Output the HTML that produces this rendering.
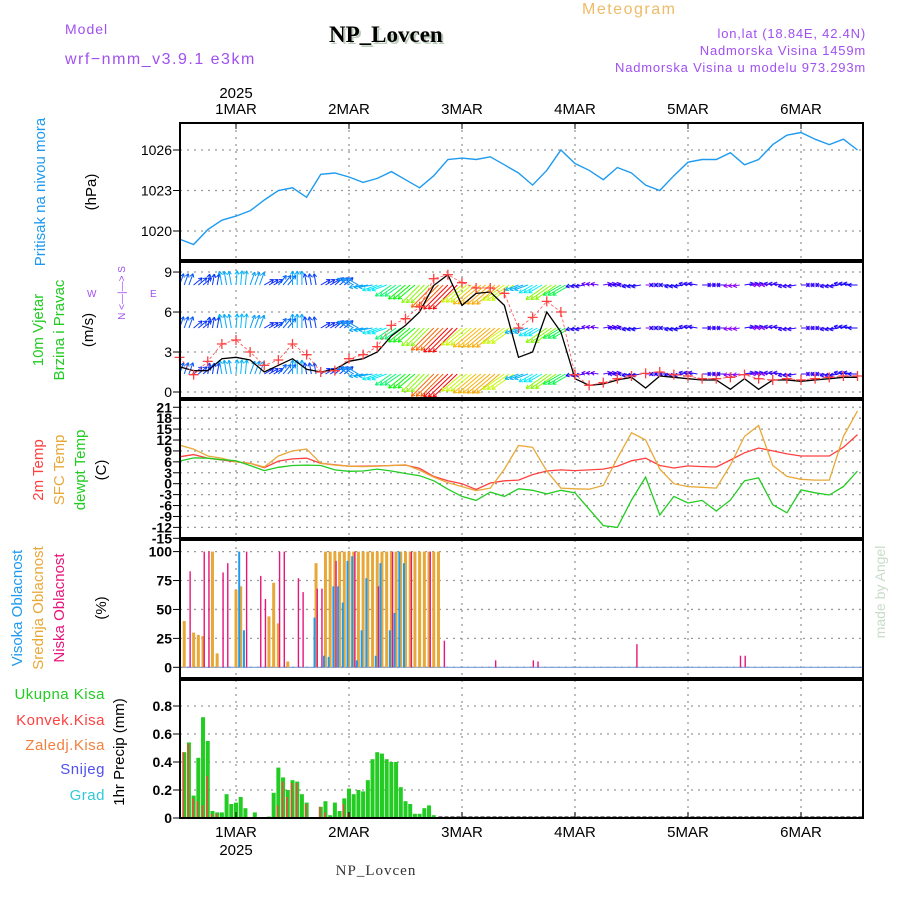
<!DOCTYPE html>
<html><head><meta charset="utf-8"><style>
html,body{margin:0;padding:0;background:#fff}
svg{display:block;font-family:"Liberation Sans",sans-serif}
</style></head><body>
<svg id="chart" width="900" height="900" viewBox="0 0 900 900">
<rect x="0" y="0" width="900" height="900" fill="#fff"/>
<text x="582" y="14" font-size="16" fill="#eebb66" letter-spacing="1.5">Meteogram</text>
<text x="65" y="34" font-size="14" fill="#a050f0" letter-spacing="1">Model</text>
<text x="65" y="64" font-size="16" fill="#a050f0" letter-spacing="1.5">wrf−nmm_v3.9.1 e3km</text>
<text x="331" y="44" font-size="23" font-weight="bold" fill="#bbccbb" font-family="Liberation Serif,serif">NP_Lovcen</text>
<text x="329" y="42" font-size="23" font-weight="bold" fill="#000" font-family="Liberation Serif,serif">NP_Lovcen</text>
<text x="866" y="38" font-size="13" fill="#a050f0" text-anchor="end" letter-spacing="0.8">lon,lat (18.84E, 42.4N)</text>
<text x="866" y="55" font-size="13" fill="#a050f0" text-anchor="end" letter-spacing="0.8">Nadmorska Visina 1459m</text>
<text x="866" y="72" font-size="13" fill="#a050f0" text-anchor="end" letter-spacing="0.8">Nadmorska Visina u modelu 973.293m</text>
<g id="grid"></g><g id="marks"></g><g id="frames"></g><g id="labels"></g>
</svg>
<script>
// ---------- data ----------
const hours3 = [-12,-9,-6,-3,0,3,6,9,12,15,18,21,24,27,30,33,36,39,42,45,48,51,54,57,60,63,66,69,72,75,78,81,84,87,90,93,96,99,102,105,108,111,114,117,120,123,126,129,132];
const pressure = [1019.4,1019.0,1020.1,1020.8,1021.1,1021.5,1022.3,1023.0,1023.2,1022.5,1024.2,1024.3,1024.0,1023.6,1023.9,1024.4,1023.8,1023.2,1024.1,1025.3,1025.4,1025.3,1025.5,1024.9,1024.3,1023.4,1024.5,1026.0,1025.0,1024.5,1023.8,1024.7,1024.3,1023.4,1023.0,1024.1,1025.1,1025.3,1025.3,1025.8,1024.9,1025.3,1026.4,1027.1,1027.3,1026.8,1026.4,1026.8,1026.0];
const windSpeed = [1.9,1.6,1.6,2.5,2.6,2.4,1.5,2.0,2.5,1.7,1.5,1.7,2.3,2.5,3.0,4.2,5.0,6.0,8.0,8.8,6.5,7.4,7.5,6.5,2.6,3.0,6.0,4.5,1.0,0.5,0.6,0.9,1.1,0.3,1.2,1.1,1.0,0.9,0.9,0.2,1.0,0.2,0.9,0.9,0.8,0.9,1.0,1.1,1.1];
const windGust = [2.6,1.3,2.3,3.6,3.9,3.0,2.0,2.4,3.6,2.8,1.5,1.6,2.5,2.8,3.4,5.0,5.5,6.4,8.5,8.8,8.2,7.8,7.8,7.4,4.8,5.6,6.8,6.0,1.3,0.5,0.7,1.0,1.2,1.4,1.5,1.3,1.2,1.0,1.0,1.1,1.3,1.0,0.9,1.0,0.9,1.0,1.1,1.2,1.2];
const windDir = [200,230,190,170,185,200,240,220,180,170,240,230,120,80,70,55,50,45,45,45,50,50,50,55,70,60,55,60,80,100,260,90,80,270,90,80,100,270,90,80,260,90,100,80,270,90,80,100,90];
const temp2m = [7.4,8.0,7.0,6.5,6.0,5.6,4.4,6.2,6.8,7.0,5.6,5.2,4.8,4.8,4.9,5.0,5.1,4.2,2.0,0.8,0.0,-1.6,0.2,0.8,1.0,2.5,3.5,3.8,3.6,3.8,4.0,4.8,6.3,7.0,5.0,4.3,4.9,4.7,4.6,6.5,8.5,9.8,9.0,8.2,7.6,7.6,7.6,10.0,13.5];
const tempSfc = [10.6,9.5,7.6,7.0,6.0,5.6,4.6,7.6,9.0,9.5,5.6,5.1,4.8,4.7,4.8,5.0,5.2,3.7,1.8,0.3,-0.8,-1.9,-1.2,4.0,10.5,10.0,3.5,-1.2,-1.4,-1.5,-0.5,7.0,14.0,12.0,4.0,0.0,-0.8,-1.0,-1.2,5.1,13.0,16.0,5.0,2.0,1.2,1.0,1.0,13.0,20.0];
const dewpt = [6.2,7.1,7.0,6.6,6.3,5.0,3.6,4.5,5.0,5.1,5.0,3.8,3.4,3.5,4.0,3.5,2.8,2.2,0.8,-1.5,-3.5,-4.6,-2.3,-3.5,-1.4,-1.8,-2.8,-1.8,-2.5,-7.0,-11.5,-12.0,-4.5,1.8,-8.6,-3.5,-5.3,-4.6,-7.5,-4.5,0.8,1.6,-5.8,-8.0,-1.7,-2.5,-3.1,-0.8,3.5];
// hourly, from h=-12 to h=44
const cloudHours = [-12,-11,-10,-9,-8,-7,-6,-5,-4,-3,-2,-1,0,1,2,3,4,5,6,7,8,9,10,11,12,13,14,15,16,17,18,19,20,21,22,23,24,25,26,27,28,29,30,31,32,33,34,35,36,37,38,39,40,41,42,43,44];
const cloudLow  = [0,0,83,0,0,100,100,0,0,82,90,0,0,0,100,0,0,79,59,0,0,100,100,0,0,77,65,0,0,68,68,0,0,92,0,0,0,100,0,0,0,0,70,0,0,100,0,0,0,100,0,0,0,100,0,0,23];
const cloudMid  = [0,40,0,30,28,27,0,100,12,0,0,0,67,70,0,0,0,0,0,44,73,38,0,5,0,0,0,0,0,90,0,100,100,100,100,100,100,100,100,100,100,100,100,100,100,100,100,100,100,100,100,100,100,100,100,100,0];
const cloudHigh = [0,0,0,0,0,0,0,0,0,0,0,0,0,100,32,0,0,0,0,0,0,0,0,0,0,0,0,0,0,43,0,10,9,70,70,56,92,96,6,32,77,0,10,90,0,32,47,100,90,0,0,0,0,0,0,0,0];
const lateLowHours = [55,63,64,85,107,108];
const lateLowValues = [6,6,5,20,10,10];
const precipHours = [-11,-10,-9,-8,-7,-6,-5,-4,-3,-2,-1,0,1,2,3,4,5,6,7,8,9,10,11,12,13,14,15,16,17,18,19,20,21,22,23,24,25,26,27,28,29,30,31,32,33,34,35,36,37,38,39,40,41,42];
const precipTotal = [0.47,0.54,0.16,0.43,0.72,0.55,0.05,0.04,0.04,0.17,0.10,0.11,0.15,0.07,0,0.04,0,0,0.01,0.18,0.36,0.29,0.20,0.27,0.26,0.17,0.11,0,0,0.08,0.12,0.02,0.11,0.05,0.14,0.21,0.17,0.20,0.19,0.27,0.42,0.47,0.46,0.42,0.40,0.40,0.22,0.12,0.10,0.03,0.03,0.07,0.09,0.02];
const precipConv  = [0.47,0.53,0.14,0.12,0.09,0.30,0.03,0.03,0,0,0,0,0,0,0,0,0,0,0,0,0.09,0.26,0.15,0.25,0.25,0,0.10,0,0,0.08,0.04,0,0,0,0.10,0.04,0,0,0,0,0,0,0,0,0,0,0,0,0,0,0,0,0,0];
const dayHours = [0,24,48,72,96,120];
const dayLabels = ["1MAR","2MAR","3MAR","4MAR","5MAR","6MAR"];
const pTicks = [1020,1023,1026];
const wTicks = [0,3,6,9];
const tTicks = [21,18,15,12,9,6,3,0,-3,-6,-9,-12,-15];
const cTicks = [0,25,50,75,100];
const rTicks = [0,0.2,0.4,0.6,0.8];

// ---------- axes ----------
const X0=180, X1=863;
const xh = h => 236 + h*113/24;
const yP = v => 150 + (1026-v)*13.5;
const yW = v => 392 - v*13.33;
const yT = v => 483.7 - v*3.64;
const yC = v => 667.3 - v*1.157;
const yR = v => 818 - v*140;
const panels = [[123,260],[262,398],[400,538],[540,678],[680,818]];

const NS="http://www.w3.org/2000/svg";
function mk(parent, tag, attrs, text){
  const e=document.createElementNS(NS,tag);
  for(const k in attrs) e.setAttribute(k,attrs[k]);
  if(text!==undefined) e.textContent=text;
  document.getElementById(parent).appendChild(e);
  return e;
}
const dots = "2,5";
// grid
panels.forEach(function(p,pi){
  dayHours.forEach(function(h){
    const g=mk('grid','line',{x1:xh(h),x2:xh(h),y1:p[0],y2:p[1],stroke:'#999','stroke-width':1.3,'stroke-dasharray':dots});
    
    
  });
});
function hgrid(ticks, yf, fmt, p, bold){
  ticks.forEach(function(t){
    const y=yf(t);
    const g=mk('grid','line',{x1:X0,x2:X1,y1:y,y2:y,stroke:'#999','stroke-width':1.3,'stroke-dasharray':dots});
    
    
    mk('frames','line',{x1:X0-7,x2:X0,y1:y,y2:y,stroke:'#000','stroke-width':1});
    const tl=mk('labels','text',{x:X0-8,y:y+5,'font-size':bold?14:14,'font-weight':bold?'bold':'normal','text-anchor':'end',fill:'#000'},fmt(t));
    
    
  });
}
hgrid(pTicks,yP,String,panels[0]);
hgrid(wTicks,yW,String,panels[1]);
hgrid(tTicks,yT,String,panels[2],true);
hgrid(cTicks,yC,String,panels[3],true);
hgrid(rTicks,yR,function(t){return t===0?'0':t.toFixed(1);},panels[4],true);

// frames
panels.forEach(function(p){
  const r=mk('frames','rect',{x:X0,y:p[0],width:X1-X0,height:p[1]-p[0],fill:'none',stroke:'#000','stroke-width':2});
  
  
});
dayHours.forEach(function(h,i){
  mk('frames','line',{x1:xh(h),x2:xh(h),y1:123,y2:129,stroke:'#000'});
  mk('frames','line',{x1:xh(h),x2:xh(h),y1:812,y2:818,stroke:'#000'});
  const t=mk('labels','text',{x:xh(h),y:114,'font-size':15,'text-anchor':'middle',fill:'#000'},dayLabels[i]);
  
  
  const b=mk('labels','text',{x:xh(h),y:837,'font-size':15,'text-anchor':'middle',fill:'#000'},dayLabels[i]);
  
  
});
mk('labels','text',{x:xh(0),y:98,'font-size':15,'text-anchor':'middle'},'2025');
mk('labels','text',{x:xh(0),y:855,'font-size':15,'text-anchor':'middle'},'2025');

function pts(xs, ys, yf){ return xs.map(function(h,i){return xh(h).toFixed(1)+','+yf(ys[i]).toFixed(1);}).join(' '); }

// pressure
const pl=mk('marks','polyline',{points:pts(hours3,pressure,yP),fill:'none',stroke:'#1e9bf0','stroke-width':1.4});



// wind arrows
const rows=[285,328,374];
function hue(s){return Math.max(0,280-s*32);}
rows.forEach(function(ry){
  hours3.forEach(function(h,i){
    for(let k=0;k<3;k++){
      const hh=h+k; if(xh(hh)>X1-2) continue;
      const s=windSpeed[i], to=(windDir[i]+180)*Math.PI/180;
      const L=6+s*3.2;
      const x0=xh(hh), y0=ry;
      const x1=x0+Math.sin(to)*L, y1=Math.max(263,Math.min(397,y0-Math.cos(to)*L));
      const col='hsl('+hue(s)+',95%,50%)';
      const ln=mk('marks','line',{x1:x0,y1:y0,x2:x1,y2:y1,stroke:col,'stroke-width':1});
      
      
      const a=Math.atan2(y1-y0,x1-x0);
      [2.6,-2.6].forEach(function(d){
        mk('marks','line',{x1:x1,y1:y1,x2:x1-4*Math.cos(a+d*0.2),y2:y1-4*Math.sin(a+d*0.2),stroke:col,'stroke-width':1});
      });
    }
  });
});
const ws=mk('marks','polyline',{points:pts(hours3,windSpeed,yW),fill:'none',stroke:'#000','stroke-width':1.3});


const gl=mk('marks','polyline',{points:pts(hours3,windGust,yW),fill:'none',stroke:'#ff5050','stroke-width':0.8,'stroke-dasharray':'3,2'});


hours3.forEach(function(h,i){
  const x=xh(h), y=yW(windGust[i]);
  const c=mk('marks','path',{d:'M'+(x-5)+','+y+'h10M'+x+','+(y-5)+'v10',stroke:'#ff4040','stroke-width':1.3});
  
  
});

// temperatures
[[temp2m,'#ff4040','temp-2m-line'],[tempSfc,'#e8a838','temp-sfc-line'],[dewpt,'#22cc22','dewpoint-line']].forEach(function(s){
  const l=mk('marks','polyline',{points:pts(hours3,s[0],yT),fill:'none',stroke:s[1],'stroke-width':1.3});
  
  
});

// clouds
mk('marks','line',{x1:X0+2,x2:X1-1,y1:yC(0),y2:yC(0),stroke:'#7aa0d8','stroke-width':1.2});
cloudHours.forEach(function(h,i){
  const x=xh(h);
  if(cloudMid[i]>0){const b=mk('marks','rect',{x:x-1.5,y:yC(cloudMid[i]),width:3,height:yC(0)-yC(cloudMid[i]),fill:'#e8a838'});
    }
  if(cloudHigh[i]>0){const b=mk('marks','rect',{x:x-2.5,y:yC(cloudHigh[i]),width:2,height:yC(0)-yC(cloudHigh[i]),fill:'#1e9bf0'});
    }
  if(cloudLow[i]>0){const b=mk('marks','rect',{x:x+0.5,y:yC(cloudLow[i]),width:1.4,height:yC(0)-yC(cloudLow[i]),fill:'#e8157a'});
    }
});
lateLowHours.forEach(function(h,i){
  const b=mk('marks','rect',{x:xh(h),y:yC(lateLowValues[i]),width:1.4,height:yC(0)-yC(lateLowValues[i]),fill:'#e8157a'});
  
  
});

// precipitation
mk('marks','line',{x1:xh(43),x2:X1,y1:yR(0)-1,y2:yR(0)-1,stroke:'#000','stroke-width':1,'stroke-dasharray':'4,2'});
precipHours.forEach(function(h,i){
  const x=xh(h);
  if(precipTotal[i]>0){const b=mk('marks','rect',{x:x-2,y:yR(precipTotal[i]),width:4,height:yR(0)-yR(precipTotal[i]),fill:'#22cc22'});
    }
  if(precipConv[i]>0){const b=mk('marks','rect',{x:x-1.5,y:yR(precipConv[i]),width:1.5,height:yR(0)-yR(precipConv[i]),fill:'#ff4040'});
    }
});

// side labels
function vtext(x,y,txt,col,name,size){
  const t=mk('labels','text',{x:0,y:0,'font-size':size||15,fill:col,'text-anchor':'middle',transform:'translate('+x+','+y+') rotate(-90)'},txt);
  
  
}
vtext(45,192,'Pritisak na nivou mora','#1e9bf0','pressure-axis-title');
vtext(96,192,'(hPa)','#000','pressure-unit');
vtext(43,330,'10m Vjetar','#22cc22','wind-axis-title');
vtext(64,330,'Brzina i Pravac','#22cc22','wind-axis-subtitle');
vtext(93,330,'(m/s)','#000','wind-unit');
vtext(125,293,'N <—|—> S','#a050f0','wind-compass-ns',10);
mk('labels','text',{x:87,y:297,'font-size':10,fill:'#a050f0'},'W');
mk('labels','text',{x:150,y:297,'font-size':10,fill:'#a050f0'},'E');
vtext(43,470,'2m Temp','#ff4040','temp-2m-title');
vtext(64,470,'SFC Temp','#e8a838','temp-sfc-title');
vtext(85,470,'dewpt Temp','#22cc22','dewpoint-title');
vtext(106,470,'(C)','#000','temp-unit');
vtext(22,608,'Visoka Oblacnost','#1e9bf0','cloud-high-title');
vtext(43,608,'Srednja Oblacnost','#e8a838','cloud-mid-title');
vtext(64,608,'Niska Oblacnost','#e8157a','cloud-low-title');
vtext(106,608,'(%)','#000','cloud-unit');
vtext(124,752,'1hr Precip (mm)','#000','precip-axis-title');
[['Ukupna Kisa','#22cc22',699],['Konvek.Kisa','#ff4040',725],['Zaledj.Kisa','#f08040',750],['Snijeg','#5050f0',774],['Grad','#30c8d8',800]].forEach(function(s){
  const t=mk('labels','text',{x:105,y:s[2],'font-size':15,fill:s[1],'text-anchor':'end','letter-spacing':'0.5'},s[0]);
  
  
});
vtext(885,592,'made by Angel','#c8dcc8','credit-label',14);
const ft=mk('labels','text',{x:376,y:875,'font-size':15,'text-anchor':'middle',fill:'#333','font-family':'Liberation Serif,serif','letter-spacing':'1'},'NP_Lovcen');


</script>
</body></html>
